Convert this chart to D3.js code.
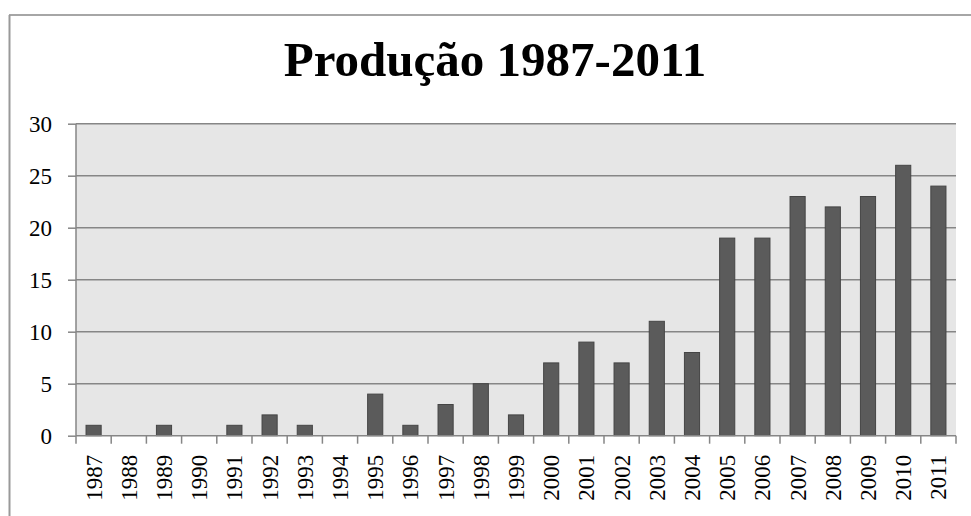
<!DOCTYPE html>
<html><head><meta charset="utf-8">
<script src="https://cdn.jsdelivr.net/npm/d3@7"></script>
<style>body{margin:0;background:#fff}svg{display:block}</style>
</head><body>
<svg id="c" width="971" height="516"></svg>
<script>
const years = ["1987","1988","1989","1990","1991","1992","1993","1994","1995","1996","1997","1998","1999","2000","2001","2002","2003","2004","2005","2006","2007","2008","2009","2010","2011"];
const values = [1,0,1,0,1,2,1,0,4,1,3,5,2,7,9,7,11,8,19,19,23,22,23,26,24];
const yTicks = [0,5,10,15,20,25,30];
const title = "Produção 1987-2011";

const svg = d3.select("#c");
const font = "'Liberation Serif','Times New Roman',serif";
const L = 76, R = 956, T = 123.7, B = 435.7;

// outer frame
svg.append("line").attr("x1",9).attr("x2",971).attr("y1",15).attr("y2",15).attr("stroke","#888").attr("stroke-width",1.5);
svg.append("line").attr("x1",9.5).attr("x2",9.5).attr("y1",15).attr("y2",516).attr("stroke","#999").attr("stroke-width",2);

svg.append("text").attr("x",495).attr("y",76).attr("text-anchor","middle")
  .attr("font-family",font).attr("font-weight","bold").attr("font-size",49).text(title);

const x = d3.scaleBand().domain(years).range([L,R]).paddingInner(0.57).paddingOuter(0.285);
const xb = d3.scaleBand().domain(years).range([L,R]);
const y = d3.scaleLinear().domain([0,30]).range([B,T]);

svg.append("rect").attr("x",L).attr("y",T).attr("width",R-L).attr("height",B-T).attr("fill","#e6e6e6");

// gridlines
svg.append("g").selectAll("line").data(yTicks.filter(d=>d>0)).join("line")
  .attr("x1",L).attr("x2",R).attr("y1",d=>y(d)).attr("y2",d=>y(d))
  .attr("stroke","#868686").attr("stroke-width",1.5);

// bars
svg.append("g").selectAll("rect").data(years).join("rect")
  .attr("x",d=>x(d)).attr("width",x.bandwidth())
  .attr("y",(d,i)=>y(values[i])).attr("height",(d,i)=>B-y(values[i]))
  .attr("fill","#5b5b5b").attr("stroke","#454545").attr("stroke-width",1);

// y axis
const ya = svg.append("g").attr("transform",`translate(${L},0)`)
  .call(d3.axisLeft(y).tickValues(yTicks).tickSize(8).tickPadding(16));
ya.selectAll("line").attr("stroke","#868686").attr("stroke-width",1.5);
ya.select(".domain").attr("stroke","#868686").attr("stroke-width",1.5).attr("d",`M0,${T}V${B}`);
ya.selectAll("text").attr("font-family",font).attr("font-size",23).attr("fill","#000");

// x axis
const xa = svg.append("g").attr("transform",`translate(0,${B})`)
  .call(d3.axisBottom(xb).tickSize(0).tickFormat(d=>d));
xa.select(".domain").attr("stroke","#868686").attr("stroke-width",1.5).attr("d",`M${L},0H${R}`);
xa.selectAll(".tick text").attr("font-family",font).attr("font-size",23).attr("fill","#000")
  .attr("transform","rotate(-90)").attr("text-anchor","end").attr("x",-19).attr("y",0).attr("dy","0.35em");
// boundary ticks
svg.append("g").selectAll("line").data(d3.range(years.length+1)).join("line")
  .attr("x1",i=>L+i*xb.step()).attr("x2",i=>L+i*xb.step()).attr("y1",B).attr("y2",B+8)
  .attr("stroke","#868686").attr("stroke-width",1.5);
</script>
</body></html>
